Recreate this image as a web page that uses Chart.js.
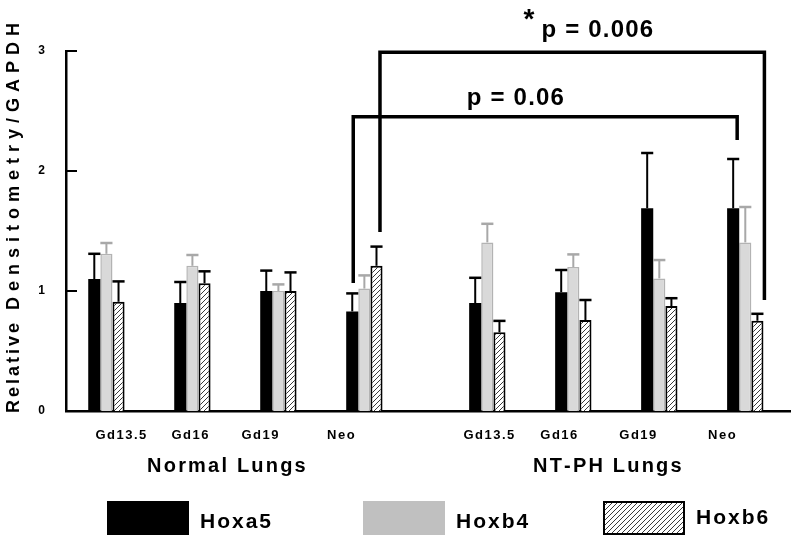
<!DOCTYPE html>
<html><head><meta charset="utf-8">
<script src="https://cdn.jsdelivr.net/npm/chart.js@4.4.1/dist/chart.umd.min.js"></script>
<style>html,body{margin:0;padding:0;background:#fff}#wrap{width:799px;height:544px;position:relative}</style>
</head><body><div id="wrap"><canvas id="c"></canvas></div>
<script>
// ---------------- data ----------------
const categories = ['Gd13.5', 'Gd16', 'Gd19', 'Neo'];
const groups = ['Normal Lungs', 'NT-PH Lungs'];
const seriesNames = ['Hoxa5', 'Hoxb4', 'Hoxb6'];
// values: Normal (Gd13.5, Gd16, Gd19, Neo), then NT-PH (Gd13.5, Gd16, Gd19, Neo)
const hoxa5    = [1.10, 0.90, 1.00, 0.83, 0.90, 0.99, 1.69, 1.69];
const hoxa5Err = [0.21, 0.175, 0.17, 0.15, 0.21, 0.185, 0.46, 0.41];
const hoxb4    = [1.31, 1.21, 1.00, 1.02, 1.405, 1.20, 1.105, 1.405];
const hoxb4Err = [0.09, 0.09, 0.055, 0.11, 0.155, 0.105, 0.153, 0.295];
const hoxb6    = [0.91, 1.064, 1.00, 1.21, 0.656, 0.758, 0.875, 0.752];
const hoxb6Err = [0.17, 0.10, 0.155, 0.16, 0.095, 0.167, 0.065, 0.058];
const yTicks = [0, 1, 2, 3];
const yTitleParts = ['Relative', 'Densitometry/GAPDH'];
const pValues = ['p = 0.06', 'p = 0.006'];

// ---------------- layout / style ----------------
const FONT = '"Liberation Sans", Arial, sans-serif';
const GROUP_GAP = 0.43;
const xPos = (g, i) => g * (categories.length + GROUP_GAP) + i;
const points = [];
groups.forEach((g, gi) => categories.forEach((c, ci) => points.push({ g: gi, c: ci, x: xPos(gi, ci) })));
const labelNudge = [14.5, -2.5, -18.5, -23.5, 1.5, -14.5, -21.5, -23.5];

const canvas = document.getElementById('c');
function makeHatch() {
  const s = 5, c = document.createElement('canvas');
  c.width = s; c.height = s;
  const g = c.getContext('2d');
  g.fillStyle = '#fff'; g.fillRect(0, 0, s, s);
  g.strokeStyle = '#3a3a3a'; g.lineWidth = 1;
  g.beginPath();
  g.moveTo(0, s); g.lineTo(s, 0);
  g.moveTo(-1, 1); g.lineTo(1, -1);
  g.moveTo(s - 1, s + 1); g.lineTo(s + 1, s - 1);
  g.stroke();
  return canvas.getContext('2d').createPattern(c, 'repeat');
}
const hatch = makeHatch();

const seriesVals = [hoxa5, hoxb4, hoxb6];
const seriesErrs = [hoxa5Err, hoxb4Err, hoxb6Err];
const fills = ['#000000', '#d9d9d9', hatch];
const borders = ['#000000', '#b3b3b3', '#000000'];
const borderWidths = [0, 1.5, 2];
const errColors = ['#000000', '#a8a8a8', '#000000'];
const legendFills = ['#000000', '#c0c0c0', hatch];
const legendBoxX = [107, 363, 603];
const legendBaseline = [528, 528, 524];

// brackets: ends tied to bars (dataset, point index), heights in data units
const brackets = [
  { from: { ds: 0, i: 3, dx: 1 }, to: { ds: 0, i: 7, dx: 4 }, top: 2.453, fromBottom: 1.067, toBottom: 2.258,
    text: pValues[0], tx: 4.756, ty: 2.55, align: 'center', star: false },
  { from: { ds: 2, i: 3, dx: 3.5 }, to: { ds: 2, i: 7, dx: 7 }, top: 2.989, fromBottom: 1.492, toBottom: 0.925,
    text: pValues[1], tx: 5.06, ty: 3.117, align: 'left', star: true }
];

function charsWidth(ctx, text, spacing) {
  let w = 0;
  for (const ch of text) w += ctx.measureText(ch).width;
  return w + spacing * (text.length - 1);
}
function drawSpaced(ctx, text, x, y, font, spacing, align) {
  ctx.save();
  ctx.font = font;
  ctx.fillStyle = '#000';
  ctx.textAlign = 'left';
  const w = charsWidth(ctx, text, spacing);
  let cx = align === 'center' ? x - w / 2 : (align === 'right' ? x - w : x);
  for (const ch of text) {
    ctx.fillText(ch, cx, y);
    cx += ctx.measureText(ch).width + spacing;
  }
  ctx.restore();
  return w;
}

const decor = {
  id: 'decor',
  afterDatasetsDraw(chart) {
    const { ctx, scales: { x, y }, chartArea } = chart;
    ctx.save();
    // inward tick marks
    ctx.strokeStyle = '#000'; ctx.lineWidth = 2;
    y.ticks.forEach(t => {
      const py = y.getPixelForValue(t.value);
      ctx.beginPath(); ctx.moveTo(chartArea.left, py); ctx.lineTo(chartArea.left + 11, py); ctx.stroke();
    });
    // error bars
    chart.data.datasets.forEach((ds, di) => {
      const meta = chart.getDatasetMeta(di);
      meta.data.forEach((bar, k) => {
        const v = ds.data[k].y, e = seriesErrs[di][k];
        const yb = y.getPixelForValue(v), yt = y.getPixelForValue(v + e);
        const half = bar.width / 2;
        ctx.strokeStyle = errColors[di];
        ctx.lineWidth = 2;
        ctx.beginPath(); ctx.moveTo(bar.x, yb); ctx.lineTo(bar.x, yt); ctx.stroke();
        ctx.lineWidth = 2.5;
        ctx.beginPath(); ctx.moveTo(bar.x - half, yt); ctx.lineTo(bar.x + half, yt); ctx.stroke();
      });
    });
    // significance brackets
    ctx.strokeStyle = '#000'; ctx.lineWidth = 3.5; ctx.lineCap = 'butt'; ctx.lineJoin = 'miter';
    brackets.forEach(b => {
      const b1 = chart.getDatasetMeta(b.from.ds).data[b.from.i];
      const b2 = chart.getDatasetMeta(b.to.ds).data[b.to.i];
      const x1 = b1.x + b.from.dx, x2 = b2.x + b.to.dx;
      const yt = y.getPixelForValue(b.top);
      ctx.beginPath();
      ctx.moveTo(x1, y.getPixelForValue(b.fromBottom));
      ctx.lineTo(x1, yt); ctx.lineTo(x2, yt);
      ctx.lineTo(x2, y.getPixelForValue(b.toBottom));
      ctx.stroke();
      const px = x.getPixelForValue(b.tx), py = y.getPixelForValue(b.ty);
      drawSpaced(ctx, b.text, px, py, 'bold 24px ' + FONT, 1.2, b.align);
      if (b.star) drawSpaced(ctx, '*', px - 18, py - 9, 'bold 28px ' + FONT, 0, 'left');
    });
    ctx.restore();
  },
  afterDraw(chart) {
    const { ctx, scales: { x, y }, chartArea } = chart;
    // category labels
    points.forEach((p, k) => {
      drawSpaced(ctx, categories[p.c], x.getPixelForValue(p.x) + labelNudge[k], 439, 'bold 13px ' + FONT, 1.5, 'center');
    });
    // group labels
    groups.forEach((g, gi) => {
      const mid = (xPos(gi, 0) + xPos(gi, categories.length - 1)) / 2;
      drawSpaced(ctx, g, x.getPixelForValue(mid) - 9, 472, 'bold 20px ' + FONT, 2.2, 'center');
    });
    // y title (two runs, rotated, reading bottom to top)
    ctx.save();
    ctx.translate(14, 413);
    ctx.rotate(-Math.PI / 2);
    ctx.textBaseline = 'middle';
    const w1 = drawSpaced(ctx, yTitleParts[0], 0, 0, 'bold 18px ' + FONT, 3, 'left');
    drawSpaced(ctx, yTitleParts[1], w1 + 13, 0, 'bold 18px ' + FONT, 6, 'left');
    ctx.restore();
    // legend
    seriesNames.forEach((n, i) => {
      const bx = legendBoxX[i], by = 501, bw = 82, bh = 34;
      ctx.save();
      ctx.fillStyle = legendFills[i];
      ctx.fillRect(bx, by, bw, bh);
      if (i === 2) { ctx.strokeStyle = '#000'; ctx.lineWidth = 2; ctx.strokeRect(bx + 1, by + 1, bw - 2, bh - 2); }
      ctx.restore();
      drawSpaced(ctx, n, bx + bw + 11, legendBaseline[i], 'bold 21px ' + FONT, 2, 'left');
    });
  }
};

const datasets = seriesNames.map((n, i) => ({
  label: n,
  data: points.map((p, k) => ({ x: p.x, y: seriesVals[i][k] })),
  backgroundColor: fills[i],
  borderColor: borders[i],
  borderWidth: borderWidths[i],
  categoryPercentage: 0.445,
  barPercentage: 1.0
}));

new Chart(canvas, {
  type: 'bar',
  data: { datasets },
  options: {
    responsive: true,
    maintainAspectRatio: false,
    animation: false,
    devicePixelRatio: 1,
    layout: { padding: { left: 0, top: 51, right: 9, bottom: 133 } },
    plugins: { legend: { display: false }, tooltip: { enabled: false } },
    scales: {
      x: {
        type: 'linear', min: -0.47, max: 7.95, offset: false,
        ticks: { display: false },
        grid: { display: false, drawTicks: false, offset: false },
        border: { display: true, color: '#000', width: 2.5 },
        afterFit(s) { s.height = 0; }
      },
      y: {
        min: 0, max: 3,
        afterBuildTicks(s) { s.ticks = yTicks.map(v => ({ value: v })); },
        ticks: { color: '#000', font: { family: FONT, size: 12, weight: 'bold' }, padding: 21 },
        grid: { display: false, drawTicks: false },
        border: { display: true, color: '#000', width: 2.5 },
        afterFit(s) { s.width = 66; }
      }
    }
  },
  plugins: [decor]
});
</script></body></html>
